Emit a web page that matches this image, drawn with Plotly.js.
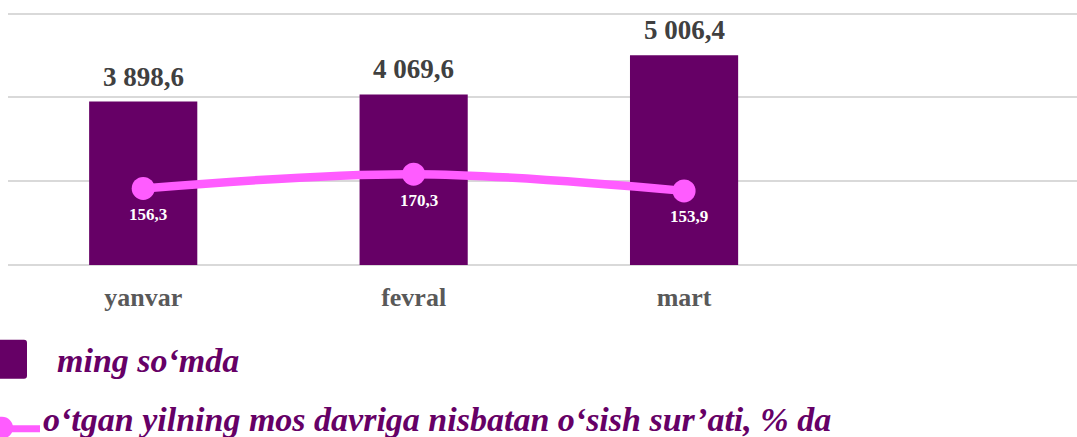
<!DOCTYPE html>
<html>
<head>
<meta charset="utf-8">
<script src="https://cdn.plot.ly/plotly-3.0.1.min.js"></script>
<style>
html,body{margin:0;padding:0;background:#fff;}
#chart{width:1077px;height:437px;}
</style>
</head>
<body>
<div id="chart"></div>
<script>
const categories = ["yanvar", "fevral", "mart"];
const amounts = [3898.6, 4069.6, 5006.4];
const growth = [156.3, 170.3, 153.9];
const seriesNames = ["ming so‘mda", "o‘tgan yilning mos davriga nisbatan o‘sish sur’ati, % da"];

const SERIF = "Liberation Serif, Times New Roman, serif";
const BAR_COLOR = "#660066";
const LINE_COLOR = "#FF5CFF";

const W = 1077, H = 437;
const M = {l: 8, r: 0, t: 10.5, b: 172};
const plotW = W - M.l - M.r, plotH = H - M.t - M.b;
const px2x = px => (px - M.l) / plotW;
const py2y = py => (H - M.b - py) / plotH;

const barTrace = {
  type: "bar",
  x: categories,
  y: amounts,
  name: seriesNames[0],
  width: 0.4,
  marker: {color: BAR_COLOR},
  hoverinfo: "none",
  showlegend: false
};
const lineTrace = {
  type: "scatter",
  mode: "lines+markers",
  x: categories,
  y: growth,
  yaxis: "y2",
  name: seriesNames[1],
  line: {color: LINE_COLOR, width: 8.5, shape: "spline"},
  marker: {color: LINE_COLOR, size: 23},
  cliponaxis: false,
  hoverinfo: "none",
  showlegend: false
};

const fmtThousands = v => v.toFixed(1).replace(".", ",").replace(/\B(?=(\d{3})+(?!\d))/g, " ");
const barAnnotations = categories.map((c, i) => ({
  x: c, y: amounts[i], xref: "x", yref: "y",
  text: "<b>" + fmtThousands(amounts[i]) + "</b>",
  showarrow: false, yanchor: "middle", yshift: 25,
  font: {family: SERIF, size: 27, color: "#404040"}
}));
const lineAnnotations = categories.map((c, i) => ({
  x: c, y: growth[i], xref: "x", yref: "y2",
  text: "<b>" + growth[i].toFixed(1).replace(".", ",") + "</b>",
  showarrow: false, yanchor: "middle", yshift: -26, xshift: 5,
  font: {family: SERIF, size: 17, color: "#FFFFFF"}
}));

// legend (drawn as layout items)
const legendFont = {family: SERIF, size: 34, color: BAR_COLOR};
const legendAnnotations = [
  {xref: "paper", yref: "paper", x: px2x(55), y: py2y(361), xanchor: "left", yanchor: "middle",
   text: "<b><i>" + seriesNames[0] + "</i></b>", showarrow: false, font: legendFont},
  {xref: "paper", yref: "paper", x: px2x(41), y: py2y(420), xanchor: "left", yanchor: "middle",
   text: "<b><i>" + seriesNames[1] + "</i></b>", showarrow: false, font: legendFont}
];
const legendShapes = [
  {type: "path", xref: "paper", yref: "paper", layer: "above",
   path: (() => {
     const x0 = px2x(-4), x1 = px2x(27), y0 = py2y(379), y1 = py2y(340);
     const rx = 3 / plotW, ry = 3 / plotH;
     return `M${x0},${y0} L${x1 - rx},${y0} Q${x1},${y0} ${x1},${y0 + ry} L${x1},${y1 - ry} Q${x1},${y1} ${x1 - rx},${y1} L${x0},${y1} Z`;
   })(),
   fillcolor: BAR_COLOR, line: {width: 0}},
  {type: "line", xref: "paper", yref: "paper", layer: "above",
   x0: px2x(0), x1: px2x(40), y0: py2y(429), y1: py2y(429),
   line: {color: LINE_COLOR, width: 7}},
  {type: "circle", xref: "paper", yref: "paper", layer: "above",
   x0: px2x(-9), x1: px2x(13), y0: py2y(439), y1: py2y(417),
   fillcolor: LINE_COLOR, line: {width: 0}}
];

const layout = {
  width: W, height: H,
  margin: M,
  paper_bgcolor: "#FFFFFF", plot_bgcolor: "#FFFFFF",
  showlegend: false,
  annotations: barAnnotations.concat(lineAnnotations, legendAnnotations),
  shapes: legendShapes,
  xaxis: {
    type: "category",
    range: [-0.5, 3.453],
    showgrid: false, zeroline: false, showline: false, ticks: "",
    ticklabelstandoff: 14,
    tickfont: {family: SERIF, size: 26, weight: "bold", color: "#595959"}
  },
  yaxis: {
    range: [0, 6060], tickvals: [0, 2000, 4000, 6000],
    showgrid: true, gridcolor: "#D9D9D9", gridwidth: 2,
    zeroline: true, zerolinecolor: "#D9D9D9", zerolinewidth: 2,
    showticklabels: false, ticks: "", showline: false
  },
  yaxis2: {
    overlaying: "y", side: "right",
    range: [81.1, 330.6],
    showgrid: false, zeroline: false, showticklabels: false, ticks: "", showline: false
  }
};

Plotly.newPlot("chart", [barTrace, lineTrace], layout, {displayModeBar: false, staticPlot: true});
</script>
</body>
</html>
